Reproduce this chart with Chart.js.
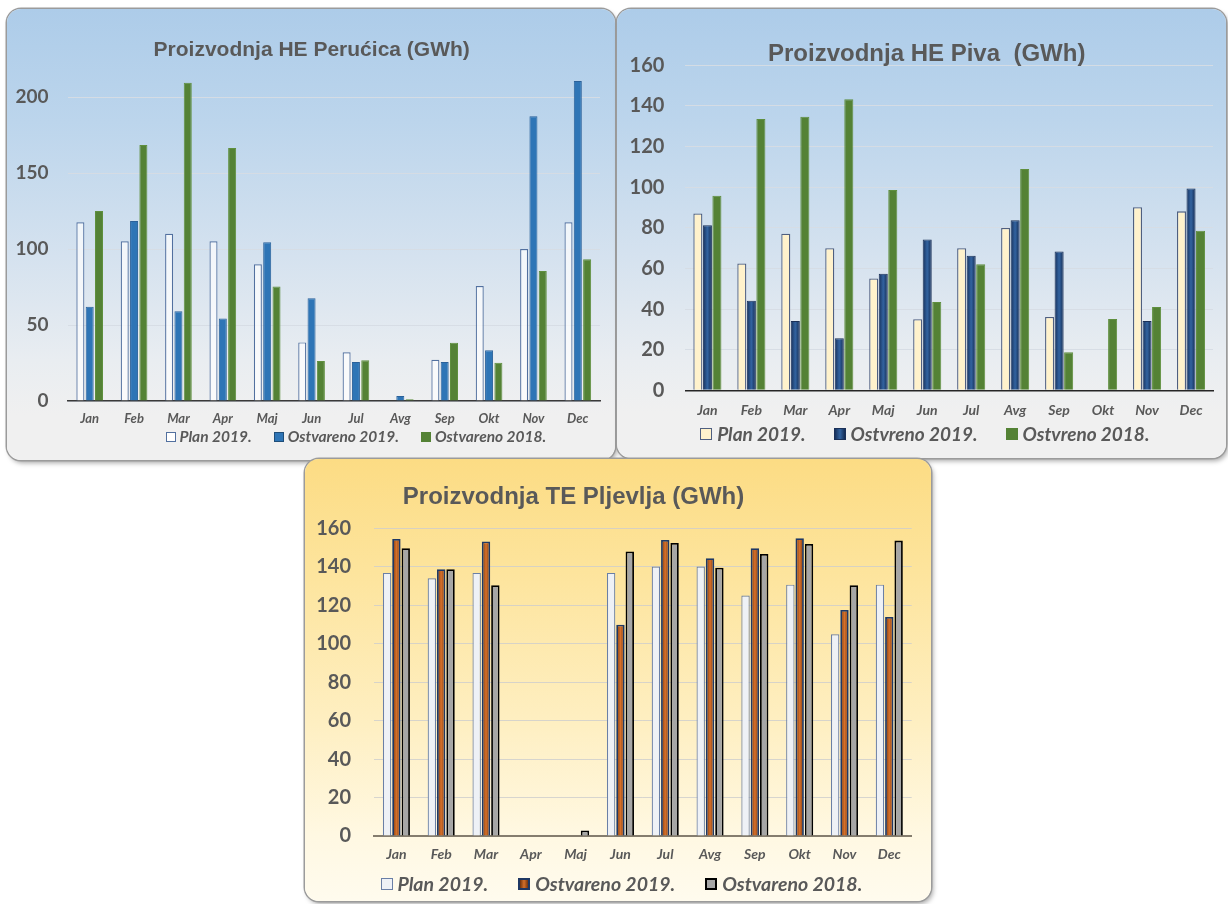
<!DOCTYPE html>
<html>
<head>
<meta charset="utf-8">
<title>Proizvodnja 2019</title>
<script src="https://cdn.jsdelivr.net/npm/chart.js@4.4.1/dist/chart.umd.min.js"></script>
<style>
  html, body { margin: 0; padding: 0; background: #fff; width: 1228px; height: 904px; overflow: hidden; }
  .panel { position: absolute; border-radius: 14px; overflow: hidden;
           box-shadow: 0 0 0 1.5px #9b9b9b, 2px 3px 5px rgba(0,0,0,0.35); }
  .blue { background: linear-gradient(180deg, #adcce9 0%, #bcd5ec 25%, #d5e2ef 55%, #e9edf1 78%, #f0f0f0 90%, #f0f0f0 100%); }
  .gold { background: linear-gradient(180deg, #fcdc84 0%, #fde49c 25%, #feefc2 60%, #fff8e2 85%, #fffbee 100%); }
  .panel canvas { position: absolute; left: 0; top: 0; }
  .title { position: absolute; transform: translateX(-50%); white-space: nowrap; line-height: 1;
           font-family: 'Liberation Sans', Arial, sans-serif; font-weight: bold; color: #595959; }
  .legend { position: absolute; display: flex; align-items: center; white-space: nowrap; line-height: 1;
            font-family: Lato, sans-serif; font-weight: bold; font-style: italic; color: #595959; }
  .legend .item { display: flex; align-items: center; }
  .legend .box { display: inline-block; box-sizing: border-box; }
</style>
</head>
<body>

<div class="panel blue" id="p1" style="left:7px; top:9px; width:608px; height:451px;">
  <canvas id="perChart" width="608" height="451"></canvas>
  <div class="title" style="left:304.7px; top:29px; font-size:21px;">Proizvodnja HE Perućica (GWh)</div>
  <div class="legend" id="perLegend" style="left:158.5px; top:420px; font-size:15.5px; height:16px;"></div>
</div>

<div class="panel blue" id="p2" style="left:617px; top:9px; width:609px; height:449px;">
  <canvas id="pivChart" width="609" height="449"></canvas>
  <div class="title" style="left:309.7px; top:32.4px; font-size:24px; white-space:pre;">Proizvodnja HE Piva  (GWh)</div>
  <div class="legend" id="pivLegend" style="left:83.2px; top:414.5px; font-size:19px; height:20px;"></div>
</div>

<div class="panel gold" id="p3" style="left:305px; top:459px; width:626px; height:442px;">
  <canvas id="plvChart" width="626" height="442"></canvas>
  <div class="title" style="left:268.5px; top:25.4px; font-size:24px;">Proizvodnja TE Pljevlja (GWh)</div>
  <div class="legend" id="plvLegend" style="left:75.5px; top:415px; font-size:19.5px; height:20px;"></div>
</div>

<script>
const months = ['Jan', 'Feb', 'Mar', 'Apr', 'Maj', 'Jun', 'Jul', 'Avg', 'Sep', 'Okt', 'Nov', 'Dec'];

// HE Perućica (GWh)
const perPlan2019 = [117.7, 105.2, 110.2, 105.2, 90.0, 38.6, 32.1, null, 27.2, 75.7, 100.1, 117.7];
const perReal2019 = [62.1, 118.6, 59.1, 54.4, 104.5, 67.6, 25.7, 3.3, 25.7, 33.4, 187.5, 210.8];
const perReal2018 = [125.1, 168.6, 209.7, 166.6, 75.5, 26.3, 26.8, 1.1, 38.4, 25.2, 85.6, 93.3];
const perTicks = [0, 50, 100, 150, 200];
const perLabels = ['Plan 2019.', 'Ostvareno 2019.', 'Ostvareno 2018.'];

// HE Piva (GWh)
const pivPlan2019 = [87.1, 62.4, 77.1, 69.9, 55.1, 35.0, 69.9, 79.9, 36.1, null, 90.1, 88.1];
const pivReal2019 = [81.2, 44.1, 34.1, 25.6, 57.4, 74.3, 66.3, 83.7, 68.3, null, 34.1, 99.3];
const pivReal2018 = [95.8, 133.6, 134.7, 143.3, 98.6, 43.5, 62.0, 109.0, 18.7, 35.1, 41.0, 78.6];
const pivTicks = [0, 20, 40, 60, 80, 100, 120, 140, 160];
const pivLabels = ['Plan 2019.', 'Ostvreno 2019.', 'Ostvreno 2018.'];

// TE Pljevlja (GWh)
const plvPlan2019 = [136.8, 134.0, 136.8, null, null, 136.8, 140.1, 140.1, 125.0, 130.7, 104.9, 130.7];
const plvReal2019 = [154.4, 138.7, 153.1, null, null, 109.9, 153.9, 144.4, 149.6, 154.8, 117.5, 113.9];
const plvReal2018 = [149.6, 138.7, 130.4, null, 2.9, 147.9, 152.4, 139.5, 146.6, 151.8, 130.4, 153.6];
const plvTicks = [0, 20, 40, 60, 80, 100, 120, 140, 160];
const plvLabels = ['Plan 2019.', 'Ostvareno 2019.', 'Ostvareno 2018.'];

// horizontal shading across each bar, like the Excel "gradient" fills
const barShade = {
  id: 'barShade',
  beforeDatasetDraw(chart, args) {
    const ds = chart.data.datasets[args.index];
    if (!ds.shade) return;
    const ctx = chart.ctx;
    args.meta.data.forEach((el) => {
      if (!isFinite(el.x) || !isFinite(el.y) || !el.width) return;
      const x0 = el.x - el.width / 2;
      const g = ctx.createLinearGradient(x0, 0, x0 + el.width, 0);
      g.addColorStop(0, ds.shade[0]);
      g.addColorStop(0.5, ds.shade[1]);
      g.addColorStop(1, ds.shade[2]);
      el.options = Object.assign({}, el.options, { backgroundColor: g });
    });
  }
};

function barChart(id, cfg) {
  cfg.datasets.forEach((ds) => {
    ds.categoryPercentage = cfg.catPct;
    ds.barPercentage = cfg.barPct;
  });
  return new Chart(document.getElementById(id), {
    type: 'bar',
    data: { labels: months, datasets: cfg.datasets },
    plugins: [barShade],
    options: {
      responsive: false,
      animation: false,
      layout: { padding: cfg.padding },
      plugins: {
        legend: { display: false },
        title: { display: false },
        tooltip: { enabled: false }
      },
      scales: {
        x: {
          grid: { display: false, drawTicks: false },
          border: { display: true, color: cfg.axisColor, width: cfg.axisWidth },
          ticks: {
            color: '#595959',
            font: { family: 'Lato', size: cfg.xFont, weight: 'bold', style: 'italic' },
            padding: cfg.xPad,
            autoSkip: false,
            maxRotation: 0
          },
          afterFit(s) { s.height = cfg.xHeight; }
        },
        y: {
          min: 0,
          max: cfg.max,
          bounds: 'data',
          afterBuildTicks(s) { s.ticks = cfg.ticks.map(v => ({ value: v })); },
          grid: { color: cfg.gridColor, lineWidth: 1, drawTicks: false },
          border: { display: false },
          ticks: {
            color: '#595959',
            font: { family: 'Lato', size: cfg.yFont, weight: 'bold' },
            padding: cfg.yPad
          },
          afterFit(s) { s.width = cfg.yWidth; }
        }
      }
    }
  });
}

function buildLegend(id, labels, boxes, opts) {
  const el = document.getElementById(id);
  el.innerHTML = labels.map((label, i) => `
    <span class="item" style="margin-right:${i < labels.length - 1 ? opts.gap : 0}px">
      <span class="box" style="width:${opts.box}px; height:${opts.box}px; margin-right:${opts.textGap}px; ${boxes[i]}"></span>
      <span>${label}</span>
    </span>`).join('');
}

barChart('perChart', {
  datasets: [
    { data: perPlan2019, backgroundColor: 'rgba(255,255,255,0.7)', borderColor: '#52709f', borderWidth: 1.2 },
    { data: perReal2019, backgroundColor: '#2e75b6', borderColor: '#2a619a', borderWidth: 1 },
    { data: perReal2018, backgroundColor: '#548235', borderColor: '#5f8f3e', borderWidth: 1 }
  ],
  catPct: 0.63, barPct: 0.86,
  padding: { top: 58, right: 15, bottom: 0, left: 0 },
  max: 220, ticks: perTicks,
  yWidth: 60.5, yPad: 19, yFont: 19,
  xHeight: 59, xPad: 10, xFont: 13,
  gridColor: 'rgba(214,220,228,0.95)', axisColor: '#3a3a3a', axisWidth: 1.5
});

barChart('pivChart', {
  datasets: [
    { data: pivPlan2019, backgroundColor: '#fff2cc', borderColor: '#4f5f80', borderWidth: 1.3 },
    { data: pivReal2019, backgroundColor: '#1f3864', shade: ['#17305a', '#3263a0', '#142b52'], borderColor: '#1a3058', borderWidth: 1 },
    { data: pivReal2018, backgroundColor: '#548235', borderColor: '#5f8f3e', borderWidth: 1 }
  ],
  catPct: 0.65, barPct: 0.95,
  padding: { top: 56.3, right: 13, bottom: 0, left: 0 },
  max: 160, ticks: pivTicks,
  yWidth: 68.4, yPad: 21, yFont: 20,
  xHeight: 67.7, xPad: 11.5, xFont: 14,
  gridColor: 'rgba(214,220,228,0.95)', axisColor: '#262626', axisWidth: 1.5
});

barChart('plvChart', {
  datasets: [
    { data: plvPlan2019, backgroundColor: '#eef1f6', borderColor: '#6a7fa6', borderWidth: 1.2 },
    { data: plvReal2019, backgroundColor: '#c55a11', shade: ['#6e310c', '#d6702a', '#74340e'], borderColor: '#1f3864', borderWidth: 1.8 },
    { data: plvReal2018, backgroundColor: '#a6a6a6', borderColor: '#000000', borderWidth: 1.8 }
  ],
  catPct: 0.625, barPct: 0.9,
  padding: { top: 69.3, right: 19.3, bottom: 0, left: 0 },
  max: 160, ticks: plvTicks,
  yWidth: 69, yPad: 23, yFont: 20,
  xHeight: 65, xPad: 10.5, xFont: 14,
  gridColor: 'rgba(205,205,205,0.8)', axisColor: '#857d6e', axisWidth: 2
});

buildLegend('perLegend', perLabels, [
  'background:#fff; border:1.2px solid #52709f;',
  'background:#2e75b6; border:1px solid #1f4e79;',
  'background:#548235;'
], { box: 10, textGap: 4, gap: 22 });

buildLegend('pivLegend', pivLabels, [
  'background:#fff2cc; border:1.5px solid #4f5f80;',
  'background:linear-gradient(to right,#17305a,#3263a0,#142b52); border:1px solid #1a3058;',
  'background:#548235;'
], { box: 12, textGap: 5, gap: 28 });

buildLegend('plvLegend', plvLabels, [
  'background:#eef1f6; border:1.5px solid #6a7fa6;',
  'background:linear-gradient(to right,#6e310c,#d6702a,#74340e); border:2px solid #1f3864;',
  'background:#a6a6a6; border:2px solid #000;'
], { box: 12, textGap: 5, gap: 30 });
</script>
</body>
</html>
